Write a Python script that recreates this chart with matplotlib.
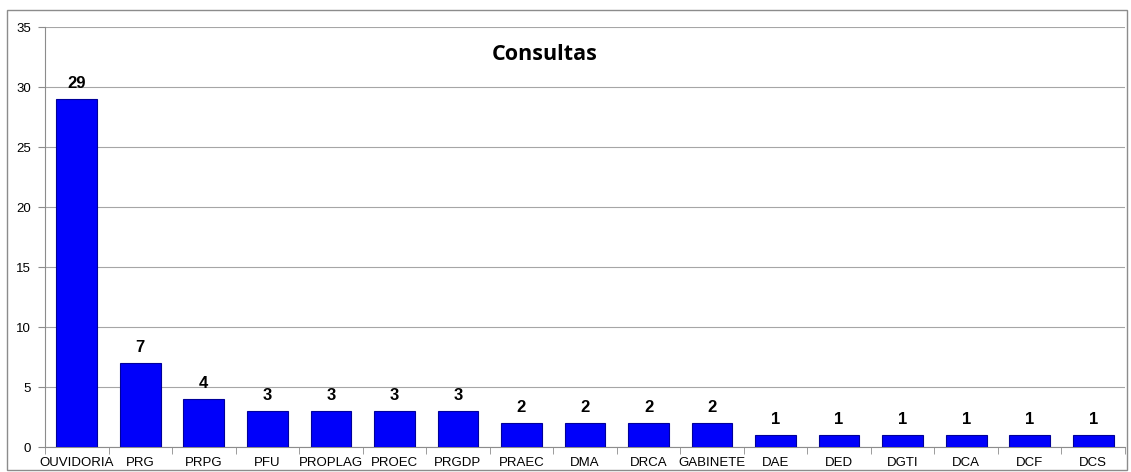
import matplotlib
matplotlib.use("Agg")
import matplotlib.pyplot as plt
from matplotlib.patches import Rectangle
import numpy as np

categories = ["OUVIDORIA", "PRG", "PRPG", "PFU", "PROPLAG", "PROEC", "PRGDP", "PRAEC",
              "DMA", "DRCA", "GABINETE", "DAE", "DED", "DGTI", "DCA", "DCF", "DCS"]
values = [29, 7, 4, 3, 3, 3, 3, 2, 2, 2, 2, 1, 1, 1, 1, 1, 1]
yticks = [0, 5, 10, 15, 20, 25, 30, 35]
title = "Consultas"

plt.rcParams['font.family'] = ['Liberation Sans', 'DejaVu Sans']

fig = plt.figure(figsize=(11.31, 4.72), dpi=100)
fig.patches.append(Rectangle((7/1131, 2/472), 1120/1131, 460/472, transform=fig.transFigure,
                             fill=False, edgecolor='#8c8c8c', linewidth=1))
ax = fig.add_axes([45/1131, 25/472, 1080/1131, 420/472])

x = np.arange(len(categories))
ax.bar(x, values, width=0.64, color='#0000FA', edgecolor='#00009a', linewidth=0.8, zorder=3)
for xi, v in zip(x, values):
    ax.text(xi, v + 0.7, str(v), ha='center', va='bottom', fontsize=12, fontweight='bold', zorder=4)

ax.set_xlim(-0.5, len(categories) - 0.5)
ax.set_ylim(0, 35)
ax.set_yticks(yticks)
ax.set_yticklabels([str(t) for t in yticks], fontsize=9.5)
ax.set_xticks(x)
ax.set_xticklabels(categories, fontsize=9.5)
ax.set_xticks(np.arange(len(categories) + 1) - 0.5, minor=True)
ax.tick_params(axis='x', which='major', length=0, pad=7)
ax.tick_params(axis='x', which='minor', length=5, color='#8c8c8c', direction='out')
ax.tick_params(axis='y', length=5, color='#8c8c8c', pad=5)
ax.yaxis.grid(True, color='#a6a6a6', linewidth=0.8, zorder=0)
for s in ['top', 'right']:
    ax.spines[s].set_visible(False)
for s in ['left', 'bottom']:
    ax.spines[s].set_color('#8c8c8c')

fig.text(545/1131, 1 - 55/472, title, ha='center', va='center', fontsize=15.5,
         fontweight='bold', family=['Open Sans', 'DejaVu Sans'])

fig.savefig("out.png", dpi=100)
